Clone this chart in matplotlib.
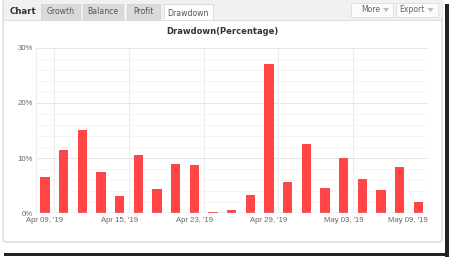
import matplotlib
matplotlib.use('Agg')
import matplotlib.pyplot as plt
from matplotlib.patches import Rectangle, FancyBboxPatch, Polygon
from matplotlib.transforms import ScaledTranslation

# values (percent)
drawdown = [6.5, 11.4, 15.1, 7.4, 3.1, 10.5, 4.4, 9.0, 8.7, 0.15, 0.6,
            3.3, 27.0, 5.7, 12.5, 4.5, 10.0, 6.2, 4.2, 8.4, 2.1]
tick_pos = [0, 4, 8, 12, 16, 20]
tick_labels = ["Apr 09, '19", "Apr 15, '19", "Apr 23, '19",
               "Apr 29, '19", "May 03, '19", "May 09, '19"]
y_ticks = [0, 10, 20, 30]
tabs = ['Growth', 'Balance', 'Profit']
title = 'Drawdown(Percentage)'

plt.rcParams['font.family'] = ['Liberation Sans', 'DejaVu Sans']

W, H = 450, 259
fig = plt.figure(figsize=(W / 100, H / 100), dpi=100)
fig.patch.set_facecolor('white')

# background layer in pixel coordinates for the widget frame
bg = fig.add_axes([0, 0, 1, 1])
bg.set_xlim(0, W)
bg.set_ylim(H, 0)
bg.axis('off')

# drop shadow
bg.add_patch(Rectangle((445, 4), 4, 253, color='#222222', lw=0))
bg.add_patch(Rectangle((4, 253), 445, 3, color='#222222', lw=0))

# panel
bg.add_patch(FancyBboxPatch((3, 0), 439, 242, boxstyle='round,pad=0,rounding_size=3',
                            fc='white', ec='#cfcfcf', lw=0.8))
# tab row background
bg.add_patch(Rectangle((3.5, 0), 438, 19.5, color='#f1f1f1', lw=0))
bg.plot([3.5, 441.5], [19.5, 19.5], color='#d8d8d8', lw=0.6)
bg.text(10, 12, 'Chart', fontsize=6.2, fontweight='bold', color='#333333',
        ha='left', va='center', family=['DejaVu Sans'])

tab_x = [40.5, 83, 126.5]
tab_w = [39.5, 40, 33]
for x, w, name in zip(tab_x, tab_w, tabs):
    bg.add_patch(Rectangle((x, 4), w, 15.5, fc='#dadada', ec='#cfcfcf', lw=0.5))
    bg.text(x + w / 2, 12, name, fontsize=5.6, color='#555555', ha='center', va='center',
            family=['DejaVu Sans'])
# active tab
bg.add_patch(Rectangle((163.5, 4), 49.5, 17, fc='white', ec='#d0d0d0', lw=0.5))
bg.add_patch(Rectangle((164, 18.5), 48.5, 3, fc='white', lw=0))
bg.text(188, 13, 'Drawdown', fontsize=5.6, color='#555555', ha='center', va='center',
        family=['DejaVu Sans'])

# More / Export buttons
for x, w, name in [(350.5, 42.5, 'More'), (395.5, 42, 'Export')]:
    bg.add_patch(Rectangle((x, 3), w, 13.5, fc='#fbfbfb', ec='#d8d8d8', lw=0.5))
    bg.text(x + w - 13, 10, name, fontsize=5.6, color='#666666', ha='right', va='center',
            family=['DejaVu Sans'])
    tx = x + w - 7
    bg.add_patch(Polygon([(tx - 3, 8), (tx + 3, 8), (tx, 12)], closed=True,
                         fc='#bbbbbb', lw=0))

bg.text(222, 31, title, fontsize=6.0, fontweight='bold', color='#333333',
        ha='center', va='center', family=['DejaVu Sans'])

# chart axes
left, right, top, bottom = 35.5, 427.7, 47.5, 213.3
ax = fig.add_axes([left / W, 1 - bottom / H, (right - left) / W, (bottom - top) / H])
ax.set_facecolor('none')
x = list(range(len(drawdown)))
ax.bar(x, drawdown, width=0.5, color='#ff4545', zorder=3)
ax.set_xlim(-0.5, len(drawdown) - 0.5)
ax.set_ylim(0, 30)

# grid
for v in range(2, 31, 2):
    ax.axhline(v, color='#e6e6e6' if v % 10 == 0 else '#f5f5f5', lw=0.7, zorder=1)
for k in range(5):
    ax.axvline(0.5 + 4 * k, color='#ececec', lw=0.7, zorder=1)
ax.axhline(0, color='#c8d4e4', lw=1.0, zorder=4)

for s in ['top', 'right', 'bottom']:
    ax.spines[s].set_visible(False)
ax.spines['left'].set_color('#ececec')
ax.spines['left'].set_linewidth(0.7)

ax.set_yticks(y_ticks)
ax.set_yticklabels([f'{v}%' for v in y_ticks])
ax.set_xticks(tick_pos)
ax.set_xticklabels(tick_labels)
ax.tick_params(length=0, labelsize=5.6, colors='#666666', pad=3)
ax.tick_params(axis='y', pad=2)
# last label is pushed inside the plot's right edge
last = ax.get_xticklabels()[-1]
last.set_horizontalalignment('right')
last.set_transform(last.get_transform() + ScaledTranslation(9.5 / 100, 0, fig.dpi_scale_trans))

fig.savefig('out.png', dpi=100)
